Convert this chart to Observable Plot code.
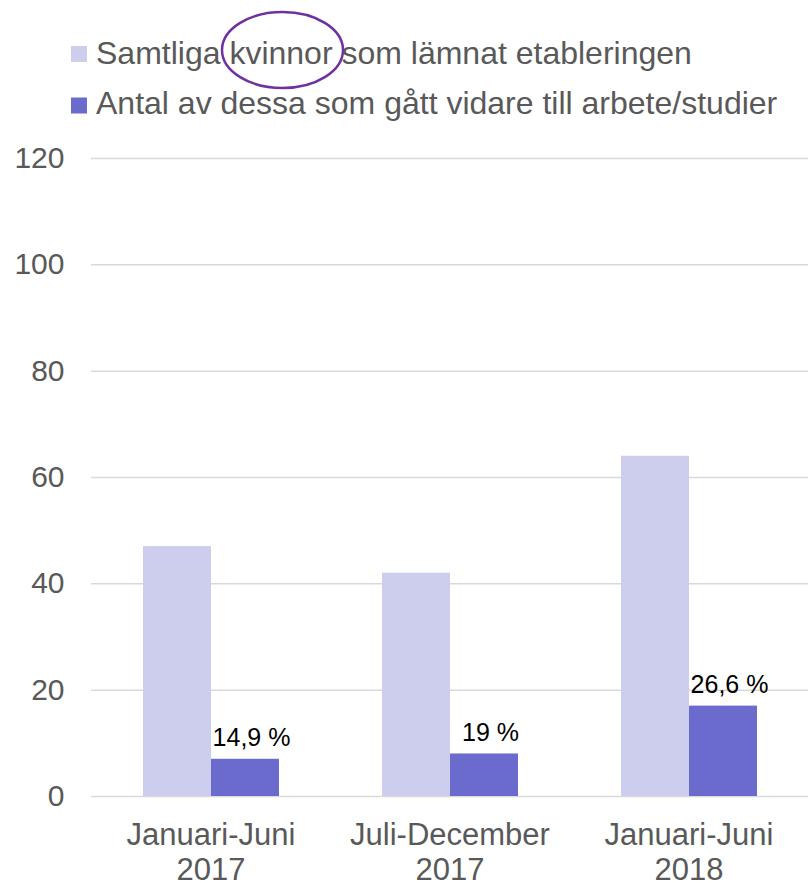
<!DOCTYPE html>
<html>
<head>
<meta charset="utf-8">
<script src="https://cdn.jsdelivr.net/npm/d3@7"></script>
<script src="https://cdn.jsdelivr.net/npm/@observablehq/plot@0.6"></script>
<style>
  body { margin: 0; background: #fff; }
  #wrap { position: relative; width: 809px; height: 883px; font-family: "Liberation Sans", Arial, sans-serif; }
  #wrap > svg { position: absolute; left: 0; top: 0; }
</style>
</head>
<body>
<div id="wrap"></div>
<script>
// ---- data ----
const periods = ["Januari-Juni 2017", "Juli-December 2017", "Januari-Juni 2018"];
const periodLines = [["Januari-Juni", "2017"], ["Juli-December", "2017"], ["Januari-Juni", "2018"]];
const seriesNames = ["Samtliga kvinnor som lämnat etableringen", "Antal av dessa som gått vidare till arbete/studier"];
const totalValues = [47, 42, 64];
const progressedValues = [7, 8, 17];
const shareLabels = ["14,9 %", "19 %", "26,6 %"];
const yTicks = [0, 20, 40, 60, 80, 100, 120];
const colors = ["#CDCEED", "#6B6BCD"];

const bars = periods.flatMap((p, i) => [
  { period: p, series: seriesNames[0], value: totalValues[i] },
  { period: p, series: seriesNames[1], value: progressedValues[i] }
]);
const labels = periods.map((p, i) => ({ period: p, series: seriesNames[1], value: progressedValues[i], label: shareLabels[i] }));

const font = "'Liberation Sans', Arial, sans-serif";
const gray = "#595959";

const chart = Plot.plot({
  width: 809,
  height: 883,
  marginTop: 158,
  marginBottom: 87,
  marginLeft: 90,
  marginRight: 0,
  style: { fontFamily: font, background: "white", overflow: "visible" },
  fx: { domain: periods, padding: 0, label: null },
  x: { domain: seriesNames, paddingInner: 0, paddingOuter: 0.75, axis: null },
  y: { domain: [0, 120], label: null },
  color: { domain: seriesNames, range: colors },
  marks: [
    Plot.gridY(yTicks, { stroke: "#D9D9D9", strokeOpacity: 1, strokeWidth: 1.5 }),
    Plot.barY(bars, { fx: "period", x: "series", y: "value", fill: "series" }),
    Plot.text(labels, { fx: "period", x: "series", y: "value", text: "label", dy: -13, dx: 6, fontSize: 25, fill: "black", lineAnchor: "bottom", textAnchor: "middle" }),
    Plot.axisY(yTicks, { tickSize: 0, tickPadding: 27, fontSize: 30, fill: gray, label: null }),
    Plot.axisFx({
      anchor: "bottom",
      tickSize: 0, tickPadding: 23, fontSize: 31, fill: gray, lineHeight: 1.15, label: null,
      tickFormat: p => periodLines[periods.indexOf(p)].join("\n")
    })
  ]
});

const wrap = document.getElementById("wrap");
wrap.appendChild(chart);

// ---- legend overlay ----
const legend = d3.create("svg").attr("width", 809).attr("height", 140)
  .style("font-family", font);
const rows = [{ y: 46, base: 64.3 }, { y: 97.5, base: 113.5 }];
seriesNames.forEach((name, i) => {
  legend.append("rect").attr("x", 71).attr("y", rows[i].y).attr("width", 16).attr("height", 16).attr("fill", colors[i]);
  legend.append("text").attr("x", 96).attr("y", rows[i].base).attr("font-size", 32).attr("fill", gray).text(name);
});
legend.append("ellipse").attr("cx", 282.5).attr("cy", 50).attr("rx", 60.5).attr("ry", 38)
  .attr("fill", "none").attr("stroke", "#7030A0").attr("stroke-width", 2.5);
wrap.appendChild(legend.node());
</script>
</body>
</html>
